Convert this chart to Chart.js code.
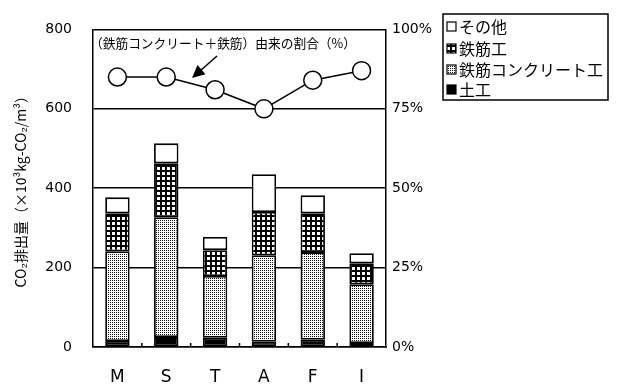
<!DOCTYPE html>
<html>
<head>
<meta charset="utf-8">
<script src="https://cdn.jsdelivr.net/npm/chart.js@4"></script>
<style>
  html, body { margin: 0; padding: 0; background: #fff; }
  #wrap { width: 620px; height: 385px; }
</style>
</head>
<body>
<div id="wrap"><canvas id="co2Chart" width="620" height="385"></canvas></div>
<script>
// =============================
// Data
// =============================

const categories = ['M', 'S', 'T', 'A', 'F', 'I'];

const earthwork = [15, 25, 23, 13, 18, 10];      // 土工
const rcWork    = [226, 302, 156, 218, 221, 148]; // 鉄筋コンクリート工
const rebarWork = [96, 136, 65, 109, 98, 53];     // 鉄筋工
const otherWork = [40, 50, 33, 95, 45, 25];       // その他

const ratioPct = [85, 85, 81, 75, 84, 87];        // (鉄筋コンクリート+鉄筋) 由来の割合

const leftTicks = ['0', '200', '400', '600', '800'];
const rightTicks = ['0%', '25%', '50%', '75%', '100%'];

const numFont = '"DejaVu Sans", Arial, sans-serif';
const jpFont = '"Noto Sans CJK JP", sans-serif';


// =============================
// Fill patterns
// =============================

function makePattern(size, draw) {
    const c = document.createElement('canvas');
    c.width = size;
    c.height = size;
    const ctx = c.getContext('2d');
    draw(ctx);
    return ctx.createPattern(c, 'repeat');
}

// black mesh with small white cells
const gridFill = makePattern(5, ctx => {
    ctx.fillStyle = '#000';
    ctx.fillRect(0, 0, 5, 5);
    ctx.fillStyle = '#fff';
    ctx.fillRect(2, 2, 3, 3);
});

// fine stipple
const dotFill = makePattern(2, ctx => {
    ctx.fillStyle = '#fff';
    ctx.fillRect(0, 0, 2, 2);
    ctx.fillStyle = '#111';
    ctx.fillRect(0, 0, 1, 1);
});


// =============================
// Plugins
// =============================

const frameAndNote = {
    id: 'frameAndNote',
    afterDraw(chart) {
        const ctx = chart.ctx;
        const area = chart.chartArea;
        const xs = chart.scales.x;
        ctx.save();

        // small inner ticks between categories
        ctx.strokeStyle = '#000';
        ctx.lineWidth = 1.5;
        for (let i = 0; i < categories.length - 1; i++) {
            const x = (xs.getPixelForValue(i) + xs.getPixelForValue(i + 1)) / 2;
            ctx.beginPath();
            ctx.moveTo(x, area.bottom);
            ctx.lineTo(x, area.bottom - 4);
            ctx.stroke();
        }

        // note above the ratio line
        ctx.fillStyle = '#000';
        ctx.font = '13px ' + jpFont;
        ctx.textBaseline = 'middle';
        ctx.textAlign = 'left';
        ctx.fillText('（鉄筋コンクリート＋鉄筋）由来の割合（%）', area.left - 3, 43, 266);

        // arrow pointing at the line
        const x0 = 217, y0 = 56, x1 = 192, y1 = 78;
        const ang = Math.atan2(y1 - y0, x1 - x0);
        ctx.beginPath();
        ctx.moveTo(x0, y0);
        ctx.lineTo(x1 - Math.cos(ang) * 8, y1 - Math.sin(ang) * 8);
        ctx.stroke();
        ctx.beginPath();
        ctx.moveTo(x1, y1);
        ctx.lineTo(x1 - Math.cos(ang - 0.45) * 14, y1 - Math.sin(ang - 0.45) * 14);
        ctx.lineTo(x1 - Math.cos(ang + 0.45) * 14, y1 - Math.sin(ang + 0.45) * 14);
        ctx.closePath();
        ctx.fill();

        // legend box
        const bx = 443, by = 14, bw = 165, bh = 86;
        ctx.lineWidth = 1.5;
        ctx.strokeRect(bx, by, bw, bh);

        const bars = chart.data.datasets.filter(d => d.type === 'bar').slice().reverse();
        const rowY = [27, 49, 70, 90];
        ctx.font = '16px ' + jpFont;
        bars.forEach((ds, i) => {
            const y = rowY[i];
            ctx.fillStyle = ds.backgroundColor;
            ctx.fillRect(447, y - 5, 9, 9);
            ctx.lineWidth = 1.2;
            ctx.strokeStyle = '#000';
            ctx.strokeRect(447, y - 5, 9, 9);
            ctx.fillStyle = '#000';
            ctx.fillText(ds.label, 459, y, 146);
        });

        ctx.restore();
    }
};


// =============================
// Chart
// =============================

function barSet(label, data, fill) {
    return {
        type: 'bar',
        label: label,
        data: data,
        backgroundColor: fill,
        borderColor: '#000',
        borderWidth: 1.8,
        borderSkipped: false,
        yAxisID: 'y',
        stack: 'work',
        order: 1
    };
}

new Chart(document.getElementById('co2Chart'), {
    data: {
        labels: categories,
        datasets: [
            {
                type: 'line',
                label: '割合',
                data: ratioPct,
                yAxisID: 'y1',
                borderColor: '#000',
                borderWidth: 1.5,
                pointRadius: 9,
                pointBackgroundColor: '#fff',
                pointBorderColor: '#000',
                pointBorderWidth: 1.5,
                tension: 0,
                fill: false,
                order: 0
            },
            barSet('土工', earthwork, '#000'),
            barSet('鉄筋コンクリート工', rcWork, dotFill),
            barSet('鉄筋工', rebarWork, gridFill),
            barSet('その他', otherWork, '#fff')
        ]
    },
    options: {
        responsive: false,
        animation: false,
        devicePixelRatio: 1,
        layout: { padding: { top: 29, left: 0, right: 0, bottom: 0 } },
        plugins: {
            legend: { display: false },
            tooltip: { enabled: false }
        },
        datasets: {
            bar: { categoryPercentage: 1, barPercentage: 0.5 }
        },
        scales: {
            x: {
                stacked: true,
                afterFit: s => { s.height = 38; },
                grid: { display: false },
                border: { display: true, color: '#000', width: 1.5 },
                ticks: {
                    color: '#000',
                    padding: 12,
                    font: { family: numFont, size: 17 }
                }
            },
            y: {
                stacked: true,
                position: 'left',
                min: 0,
                max: 800,
                afterFit: s => { s.width = 93; },
                grid: { color: '#000', lineWidth: 1.5, drawTicks: false },
                border: { display: true, color: '#000', width: 1.5 },
                afterBuildTicks: s => {
                    s.ticks = leftTicks.map(v => ({ value: Number(v) }));
                },
                ticks: {
                    color: '#000',
                    padding: 21,
                    font: { family: numFont, size: 14 },
                    callback: (v, i) => leftTicks[i]
                },
                title: {
                    display: true,
                    text: 'CO₂排出量（×10³kg-CO₂/m³）',
                    color: '#000',
                    font: { family: jpFont, size: 14 },
                    padding: { top: 12, bottom: 0 }
                }
            },
            y1: {
                position: 'right',
                min: 0,
                max: 100,
                afterFit: s => { s.width = 620 - 386; },
                grid: { display: false, drawTicks: false },
                border: { display: true, color: '#000', width: 1.5 },
                afterBuildTicks: s => {
                    s.ticks = rightTicks.map(t => ({ value: parseFloat(t) }));
                },
                ticks: {
                    color: '#000',
                    padding: 6,
                    font: { family: numFont, size: 14 },
                    callback: (v, i) => rightTicks[i]
                }
            }
        }
    },
    plugins: [frameAndNote]
});
</script>
</body>
</html>
